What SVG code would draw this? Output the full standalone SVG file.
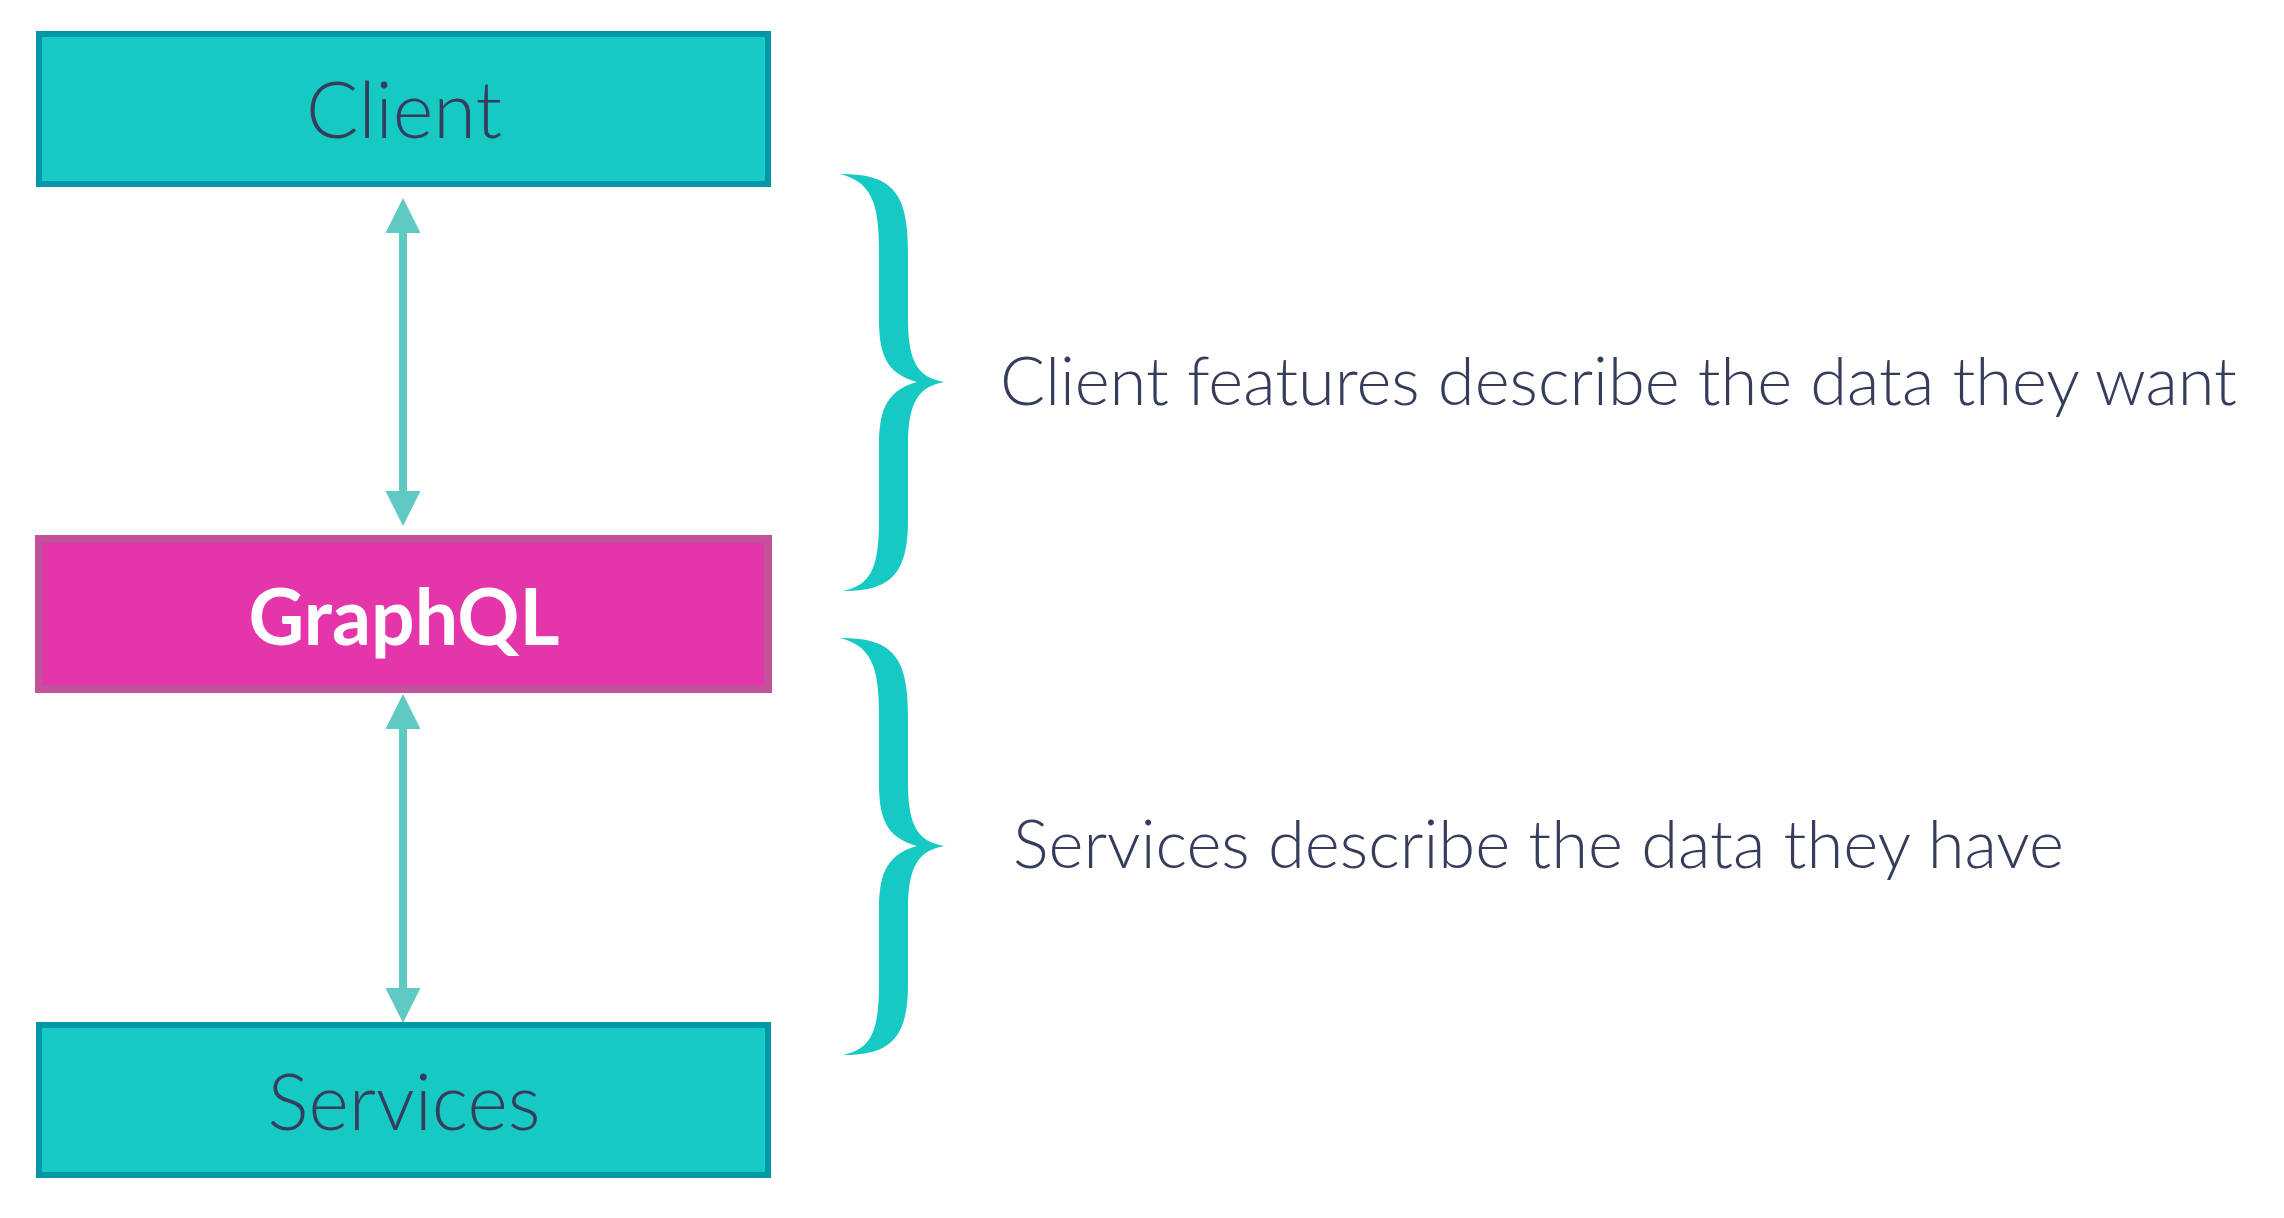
<svg xmlns="http://www.w3.org/2000/svg" width="2284" height="1218" viewBox="0 0 2284 1218">
<style>
.box{fill:#17C9C3;stroke:#0098A9;stroke-width:6}
.gq{fill:#E535AB;stroke:#C2529C;stroke-width:8}
.lbl{font-family:"Lato","Open Sans","Liberation Sans",sans-serif;font-weight:300;fill:#363C5C;text-anchor:middle}
.gqt{font-family:"Lato","Open Sans","Liberation Sans",sans-serif;font-weight:700;fill:#FFFFFF;text-anchor:middle}
.note{font-family:"Lato","Open Sans","Liberation Sans",sans-serif;font-weight:300;fill:#363C5C}
.line{stroke:#5FCAC3;stroke-width:8;fill:none}
.head{fill:#5FCAC3}
.brace{fill:#17C9C3}
</style>
<defs>
<path id="bracePath" d="M 840 174 C 890 174 908 190 908 250 L 908 320 C 908 365 920 378 945 382 C 920 386 908 400 908 445 L 908 520 C 908 575 890 591 843 591 C 870 585 879 570 879 520 L 879 445 C 879 405 890 390 917 382 C 890 374 879 360 879 320 L 879 250 C 879 200 870 182 840 174 Z"/>
</defs>
<g id="client">
<rect class="box" x="39" y="34" width="729" height="150"/>
<text class="lbl" x="404" y="138" font-size="79" textLength="196" lengthAdjust="spacingAndGlyphs">Client</text>
</g>
<g id="graphql">
<rect class="gq" x="39" y="539" width="729" height="150"/>
<text class="gqt" x="404" y="645" font-size="78" textLength="311" lengthAdjust="spacingAndGlyphs">GraphQL</text>
</g>
<g id="services">
<rect class="box" x="39" y="1025" width="729" height="150"/>
<text class="lbl" x="404" y="1130" font-size="79" textLength="273" lengthAdjust="spacingAndGlyphs">Services</text>
</g>
<g id="connectors">
<line class="line" x1="403" y1="230" x2="403" y2="494"/>
<polygon class="head" points="403,198 385.5,233 420.5,233"/>
<polygon class="head" points="403,526 385.5,491 420.5,491"/>
<line class="line" x1="403" y1="726" x2="403" y2="991"/>
<polygon class="head" points="403,694 385.5,729 420.5,729"/>
<polygon class="head" points="403,1023 385.5,988 420.5,988"/>
</g>
<g id="brace-client">
<use href="#bracePath" class="brace"/>
<text class="note" x="1000" y="405" font-size="67" textLength="1237" lengthAdjust="spacingAndGlyphs">Client features describe the data they want</text>
</g>
<g id="brace-services">
<use href="#bracePath" class="brace" transform="translate(0,464)"/>
<text class="note" x="1013" y="868" font-size="67" textLength="1051" lengthAdjust="spacingAndGlyphs">Services describe the data they have</text>
</g>
</svg>
